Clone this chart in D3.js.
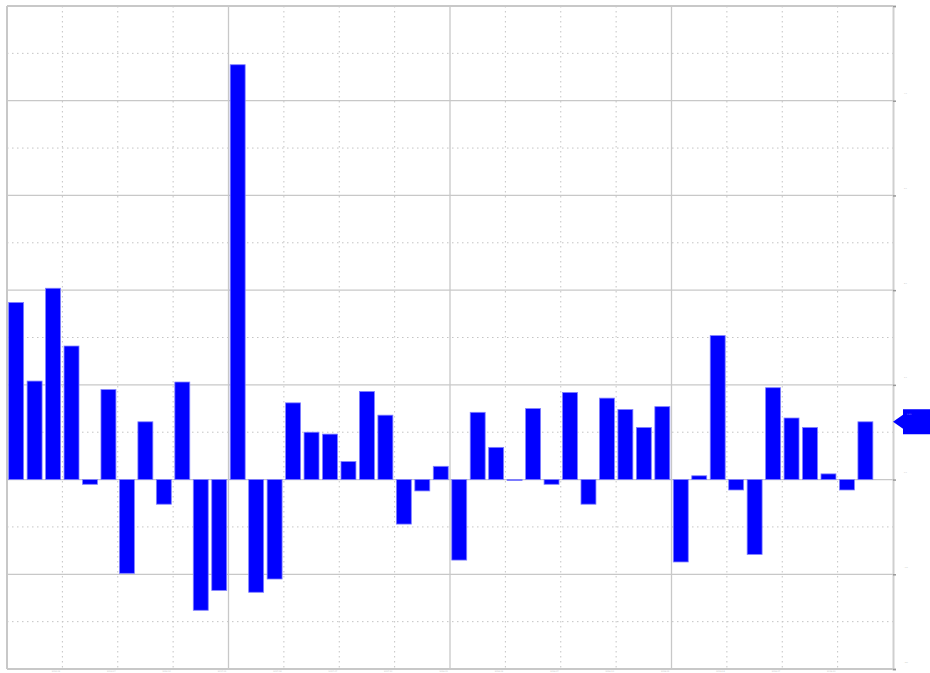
<!DOCTYPE html>
<html lang="en">
<head>
<meta charset="utf-8">
<title>monthly bars</title>
<script src="https://d3js.org/d3.v7.min.js"></script>
<style>
  body{margin:0;background:#fff;font-family:"DejaVu Sans",sans-serif;}
  svg{display:block;}
</style>
</head>
<body>
<div id="chart"></div>
<script>
// months on the x axis (last month has no value yet)
var months = ["2016-01","2016-02","2016-03","2016-04","2016-05","2016-06","2016-07","2016-08","2016-09","2016-10","2016-11","2016-12",
              "2017-01","2017-02","2017-03","2017-04","2017-05","2017-06","2017-07","2017-08","2017-09","2017-10","2017-11","2017-12",
              "2018-01","2018-02","2018-03","2018-04","2018-05","2018-06","2018-07","2018-08","2018-09","2018-10","2018-11","2018-12",
              "2019-01","2019-02","2019-03","2019-04","2019-05","2019-06","2019-07","2019-08","2019-09","2019-10","2019-11","2019-12"]
// monthly change values
var values = [1.87, 1.04, 2.02, 1.41, -0.05, 0.95, -0.99, 0.61, -0.26, 1.03, -1.38, -1.17,
              4.38, -1.19, -1.05, 0.81, 0.50, 0.48, 0.19, 0.93, 0.68, -0.47, -0.12, 0.14,
              -0.85, 0.71, 0.34, -0.01, 0.75, -0.05, 0.92, -0.26, 0.86, 0.74, 0.55, 0.77,
              -0.87, 0.04, 1.52, -0.11, -0.79, 0.97, 0.65, 0.55, 0.06, -0.11, 0.61, null]
var yTicks = [-2, -1, 0, 1, 2, 3, 4, 5]
var yMinor = [-1.5, -0.5, 0.5, 1.5, 2.5, 3.5, 4.5]

drawChart()

function drawChart(){
    var W = 930, H = 673
    var pL = 7, pR = 893, pT = 6, pB = 669

    var svg = d3.select("#chart").append("svg").attr("width", W).attr("height", H)

    var x = d3.scaleBand().domain(months).range([pL, pR]).paddingInner(0.19).paddingOuter(0.09)
    var xEdge = function(i){ return pL + i * (pR - pL) / months.length }
    var y = d3.scaleLinear().domain([-2, 5]).range([pB, pT])

    var grid = svg.append("g")

    // minor horizontal dotted lines
    grid.selectAll("line.hmin").data(yMinor).enter().append("line")
        .attr("x1", pL).attr("x2", pR)
        .attr("y1", function(d){ return y(d) }).attr("y2", function(d){ return y(d) })
        .attr("stroke", "#c4c4c4").attr("stroke-width", 1).attr("stroke-dasharray", "1.5,3.5")

    // minor vertical dotted lines every quarter
    var quarterIdx = d3.range(0, months.length + 1).filter(function(i){ return i % 3 == 0 && i % 12 != 0 })
    grid.selectAll("line.vmin").data(quarterIdx).enter().append("line")
        .attr("y1", pT).attr("y2", pB)
        .attr("x1", function(i){ return xEdge(i) }).attr("x2", function(i){ return xEdge(i) })
        .attr("stroke", "#c4c4c4").attr("stroke-width", 1).attr("stroke-dasharray", "1.5,3.5")

    // major horizontal lines
    grid.selectAll("line.hmaj").data(yTicks).enter().append("line")
        .attr("x1", pL).attr("x2", pR)
        .attr("y1", function(d){ return y(d) }).attr("y2", function(d){ return y(d) })
        .attr("stroke", "#c8c8c8").attr("stroke-width", function(d){ return (d == 5 || d == -2) ? 2 : 1.3 })

    // major vertical lines every year
    var yearIdx = [0, 12, 24, 36]
    grid.selectAll("line.vmaj").data(yearIdx).enter().append("line")
        .attr("y1", pT).attr("y2", pB)
        .attr("x1", function(i){ return xEdge(i) }).attr("x2", function(i){ return xEdge(i) })
        .attr("stroke", "#c8c8c8").attr("stroke-width", function(i){ return i == 0 ? 2 : 1.3 })

    // tiny month labels at the bottom
    svg.append("g").selectAll("text").data(months.filter(function(d, i){ return i % 3 == 0 && i > 0 })).enter().append("text")
        .attr("x", function(d){ return x(d) - 4 })
        .attr("y", 672)
        .attr("text-anchor", "end")
        .attr("font-size", 2)
        .attr("fill", "#bbb")
        .text(function(d){ return d })

    // bars
    svg.append("g").selectAll("rect")
        .data(months.map(function(m, i){ return {m: m, v: values[i]} }).filter(function(d){ return d.v != null }))
        .enter().append("rect")
        .attr("x", function(d){ return x(d.m) })
        .attr("width", x.bandwidth())
        .attr("y", function(d){ return y(Math.max(0, d.v)) })
        .attr("height", function(d){ return Math.max(1, Math.abs(y(d.v) - y(0))) })
        .attr("fill", "#0000ff")
        .attr("stroke", "#8080ff")
        .attr("stroke-width", 0.8)

    // right axis
    var axis = svg.append("g")
        .attr("transform", "translate(" + pR + ",0)")
        .call(d3.axisRight(y).tickValues(yTicks).tickSize(3).tickPadding(8).tickFormat(d3.format(".1f")))
    axis.select(".domain").attr("stroke", "#cfcfcf").attr("stroke-width", 2)
    axis.selectAll(".tick line").attr("stroke", "#999").attr("stroke-width", 1.5)
    axis.selectAll(".tick text").attr("font-size", 2).attr("fill", "#bbb").attr("dy", -7)
    // top label would sit above the plot, the reference shows none there
    axis.selectAll(".tick text").filter(function(d){ return d == 5 }).remove()

    // last value marker
    var lastV = values[46]
    var ly = y(lastV)
    var marker = svg.append("g")
    marker.append("path")
        .attr("d", "M" + pR + "," + ly + " L" + (pR + 10) + "," + (ly - 7) + " L" + (pR + 10) + "," + (ly - 12.5)
            + " L" + (W + 5) + "," + (ly - 12.5) + " L" + (W + 5) + "," + (ly + 12.5) + " L" + (pR + 10) + "," + (ly + 12.5)
            + " L" + (pR + 10) + "," + (ly + 7) + "Z")
        .attr("fill", "#0000ff")
    marker.append("text")
        .attr("x", pR + 14).attr("y", ly - 7)
        .attr("font-size", 2).attr("fill", "#9999ff")
        .text(d3.format(".2f")(lastV))
}
</script>
</body>
</html>
